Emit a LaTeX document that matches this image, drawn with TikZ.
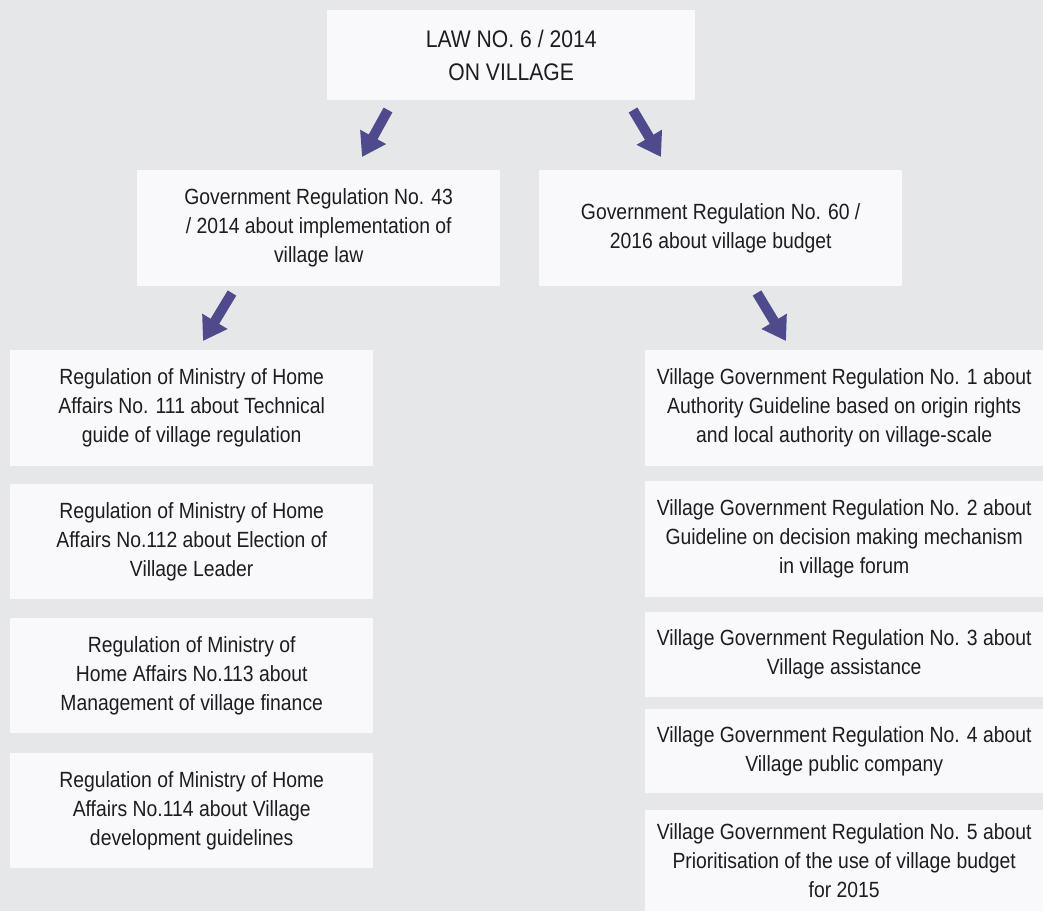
\documentclass[tikz,border=0pt]{standalone}
\usepackage{fontspec}
\setmainfont{Liberation Sans}[FakeStretch=0.88]
\usepackage{tikz}
\usetikzlibrary{arrows.meta,positioning,calc}

\definecolor{bggray}{HTML}{E6E7E9}
\definecolor{boxwhite}{HTML}{F9F9FB}
\definecolor{arrowblue}{HTML}{4F4A8C}
\definecolor{textdark}{HTML}{1E1C1D}

\tikzset{
  regbox/.style={fill=boxwhite, draw=none, anchor=north west, inner sep=0pt,
    align=center, text=textdark, font=\fontsize{22}{29}\selectfont},
  bigarrow/.style={draw=arrowblue, line width=10pt,
    -{Triangle[width=28pt,length=23pt]}, arrowblue}
}

\begin{document}
\begin{tikzpicture}[x=1pt,y=-1pt]
            % background
            \fill[bggray] (0,0) rectangle (1043,911);
            \useasboundingbox (0,0) rectangle (1043,911);

            % top law
            \node[regbox, minimum width=368pt, minimum height=90pt,
                  font=\fontsize{24}{33}\selectfont] (law) at (327,10)
                  {LAW NO. 6 / 2014\\ON VILLAGE};

            % government regulations
            \node[regbox, minimum width=363pt, minimum height=116pt] (gr43) at (137,170)
                  {Government Regulation No. 43\\/ 2014 about implementation of\\village law};
            \node[regbox, minimum width=363pt, minimum height=116pt] (gr60) at (539,170)
                  {Government Regulation No. 60 /\\2016 about village budget};

            % ministry regulations (left)
            \node[regbox, minimum width=363pt, minimum height=116pt] (mr111) at (10,350)
                  {Regulation of Ministry of Home\\Affairs No. 111 about Technical\\guide of village regulation};
            \node[regbox, minimum width=363pt, minimum height=115pt] (mr112) at (10,484)
                  {Regulation of Ministry of Home\\Affairs No.112 about Election of\\Village Leader};
            \node[regbox, minimum width=363pt, minimum height=115pt] (mr113) at (10,618)
                  {Regulation of Ministry of\\Home Affairs No.113 about\\Management of village finance};
            \node[regbox, minimum width=363pt, minimum height=115pt] (mr114) at (10,753)
                  {Regulation of Ministry of Home\\Affairs No.114 about Village\\development guidelines};

            % village government regulations (right)
            \node[regbox, minimum width=398pt, minimum height=116pt] (vg1) at (645,350)
                  {Village Government Regulation No. 1 about\\Authority Guideline based on origin rights\\and local authority on village-scale};
            \node[regbox, minimum width=398pt, minimum height=116pt] (vg2) at (645,481)
                  {Village Government Regulation No. 2 about\\Guideline on decision making mechanism\\in village forum};
            \node[regbox, minimum width=398pt, minimum height=85pt] (vg3) at (645,612)
                  {Village Government Regulation No. 3 about\\Village assistance};
            \node[regbox, minimum width=398pt, minimum height=84pt] (vg4) at (645,709)
                  {Village Government Regulation No. 4 about\\Village public company};
            \node[regbox, minimum width=398pt, minimum height=101pt] (vg5) at (645,810)
                  {Village Government Regulation No. 5 about\\Prioritisation of the use of village budget\\for 2015};

            % arrows
            \coordinate (a1s) at (388,110);
            \coordinate (a1e) at (362,157);
            \coordinate (a2s) at (633,110);
            \coordinate (a2e) at (661,157);
            \coordinate (a3s) at (232,293);
            \coordinate (a3e) at (203,341);
            \coordinate (a4s) at (757,293);
            \coordinate (a4e) at (786,341);
            \draw[bigarrow] (a1s) -- (a1e);
            \draw[bigarrow] (a2s) -- (a2e);
            \draw[bigarrow] (a3s) -- (a3e);
            \draw[bigarrow] (a4s) -- (a4e);
        \end{tikzpicture}
\end{document}
